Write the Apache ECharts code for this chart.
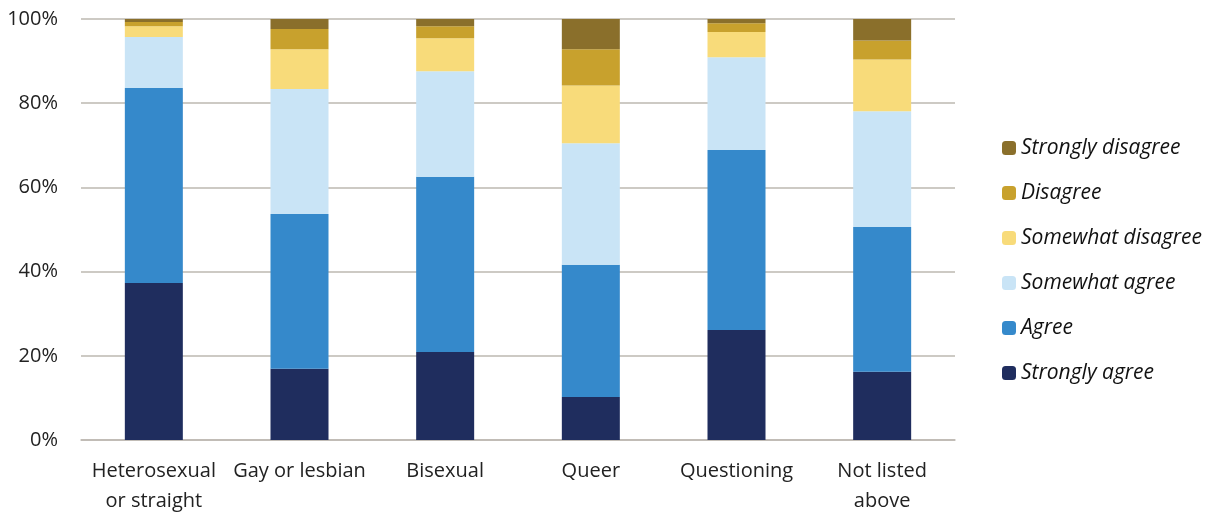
<!DOCTYPE html>
<html>
<head>
<meta charset="utf-8">
<script src="https://cdn.jsdelivr.net/npm/echarts@6/dist/echarts.min.js"></script>
<style>
  html, body { margin: 0; padding: 0; background: #fff; }
  #chart { width: 1215px; height: 512px; }
</style>
</head>
<body>
<div id="chart"></div>
<script>
const categories = ['Heterosexual\nor straight', 'Gay or lesbian', 'Bisexual', 'Queer', 'Questioning', 'Not listed\nabove'];
const yTicks = [0, 20, 40, 60, 80, 100];

const stronglyAgree = [37.3, 16.9, 20.9, 10.2, 26.1, 16.2];
const agree = [46.3, 36.8, 41.6, 31.4, 42.8, 34.4];
const somewhatAgree = [12.1, 29.7, 25.1, 28.9, 22.0, 27.5];
const somewhatDisagree = [2.6, 9.4, 7.8, 13.7, 6.0, 12.3];
const disagree = [1.0, 4.8, 2.9, 8.6, 2.1, 4.5];
const stronglyDisagree = [0.7, 2.4, 1.7, 7.2, 1.0, 5.1];

const colors = {
  'Strongly agree': '#1f2d5e',
  'Agree': '#3589cb',
  'Somewhat agree': '#c9e4f6',
  'Somewhat disagree': '#f8db7a',
  'Disagree': '#c8a12d',
  'Strongly disagree': '#8a6f2b'
};

const seriesData = [
  ['Strongly agree', stronglyAgree],
  ['Agree', agree],
  ['Somewhat agree', somewhatAgree],
  ['Somewhat disagree', somewhatDisagree],
  ['Disagree', disagree],
  ['Strongly disagree', stronglyDisagree]
];

const chart = echarts.init(document.getElementById('chart'));
chart.setOption({
  animation: false,
  textStyle: { fontFamily: 'Open Sans' },
  grid: { left: 81, right: 260, top: 19, bottom: 72, containLabel: false, outerBoundsMode: 'none' },
  legend: {
    orient: 'vertical',
    left: 997,
    top: 131,
    itemWidth: 14,
    itemHeight: 14,
    itemGap: 21,
    data: seriesData.map(s => s[0]).reverse(),
    textStyle: { fontSize: 21, fontStyle: 'italic', color: '#111', lineHeight: 24 }
  },
  xAxis: {
    type: 'category',
    data: categories,
    axisTick: { show: false },
    axisLine: { lineStyle: { color: '#bdb8b1', width: 1.5 } },
    axisLabel: { fontSize: 20, color: '#222', margin: 16, lineHeight: 30, interval: 0 }
  },
  yAxis: {
    type: 'value',
    min: 0,
    max: 100,
    interval: 20,
    axisLine: { show: false },
    axisTick: { show: false },
    splitLine: { lineStyle: { color: '#bdb8b1', width: 1.5 } },
    axisLabel: {
      fontSize: 20,
      color: '#222',
      margin: 23,
      formatter: v => (yTicks.includes(v) ? v + '%' : '')
    }
  },
  series: seriesData.map(([name, values]) => ({
    name,
    type: 'bar',
    stack: 'total',
    barWidth: 58,
    data: values,
    itemStyle: { color: colors[name] }
  }))
});
</script>
</body>
</html>
